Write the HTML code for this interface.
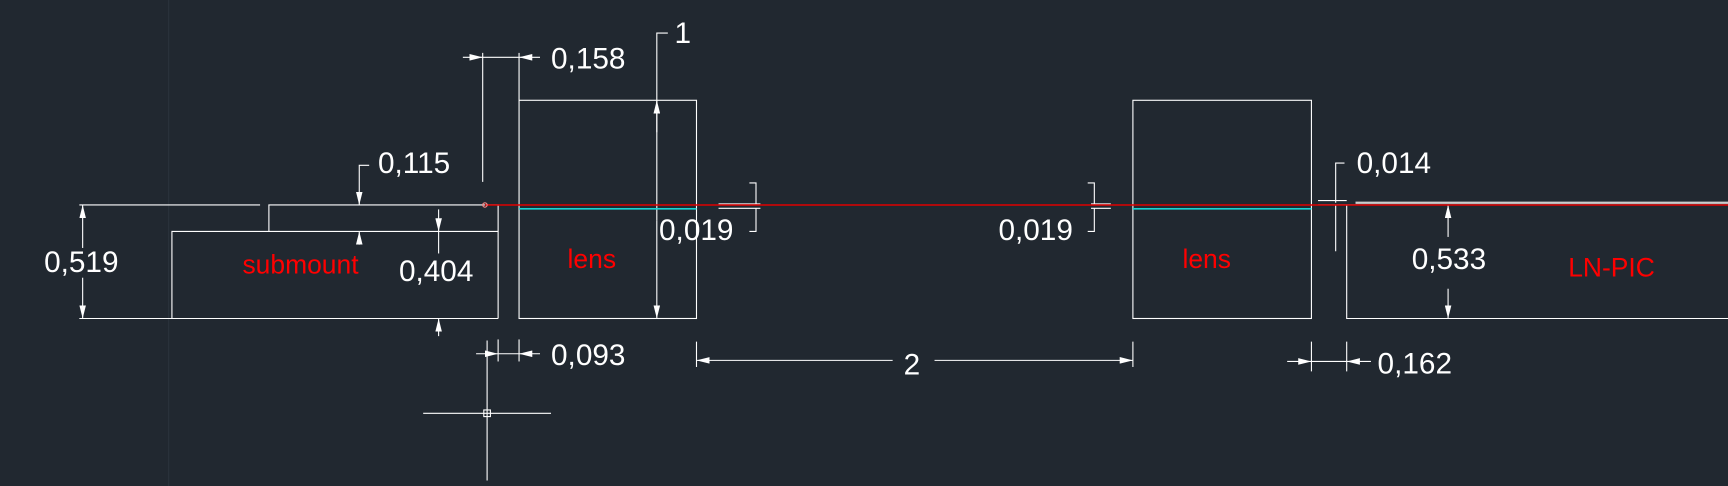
<!DOCTYPE html>
<html><head><meta charset="utf-8"><style>
html,body{margin:0;padding:0;background:#212830;overflow:hidden}
svg{display:block}
text{font-family:"Liberation Sans",sans-serif}
</style></head><body>
<svg width="1728" height="486" viewBox="0 0 1568 441" preserveAspectRatio="none">
<defs>
<marker id="ar" viewBox="0 0 12 6" refX="12" refY="3" markerWidth="12" markerHeight="6" markerUnits="userSpaceOnUse" orient="auto"><path d="M0,0 L12,3 L0,6 z" fill="#fff"/></marker>
</defs>
<rect width="1568" height="441" fill="#212830"/>
<line x1="153" y1="0" x2="153" y2="441" stroke="#2a323b" stroke-width="1"/>
<g stroke="#fff" stroke-width="1" fill="none">
<g>
<line x1="72" y1="186" x2="236" y2="186"/>
<polyline points="244,210 244,186 452,186 452,289"/>
<polyline points="452,210 156,210 156,289"/>
<line x1="72" y1="289" x2="452" y2="289"/>
</g>
<g>
<line x1="75" y1="225" x2="75" y2="186" marker-end="url(#ar)"/>
<line x1="75" y1="252" x2="75" y2="289" marker-end="url(#ar)"/>
</g>
<g>
<polyline points="335,150 326,150 326,186" marker-end="url(#ar)"/>
<line x1="326" y1="222" x2="326" y2="210" marker-end="url(#ar)"/>
</g>
<g>
<line x1="398" y1="190" x2="398" y2="210" marker-end="url(#ar)"/>
<line x1="398" y1="210" x2="398" y2="230"/>
<line x1="398" y1="305" x2="398" y2="289" marker-end="url(#ar)"/>
</g>
<g>
<line x1="438" y1="48" x2="438" y2="165"/>
<line x1="471" y1="48" x2="471" y2="91"/>
<line x1="420" y1="52" x2="438" y2="52" marker-end="url(#ar)"/>
<line x1="438" y1="52" x2="471" y2="52"/>
<line x1="490" y1="52" x2="471" y2="52" marker-end="url(#ar)"/>
</g>
<rect x="471" y="91" width="161" height="198"/>
<g>
<polyline points="606,30 596,30 596,200"/>
<line x1="596" y1="120" x2="596" y2="91" marker-end="url(#ar)"/>
<line x1="596" y1="200" x2="596" y2="289" marker-end="url(#ar)"/>
</g>
<g>
<line x1="652" y1="185" x2="690" y2="185"/><line x1="652" y1="189" x2="690" y2="189"/>
<polyline points="680,166 686,166 686,185"/><polyline points="686,189 686,210 680,210"/>
</g>
<rect x="1028" y="91" width="162" height="198"/>
<g>
<line x1="990" y1="185" x2="1008" y2="185"/><line x1="990" y1="189" x2="1008" y2="189"/>
<polyline points="987,166 993,166 993,185"/><polyline points="993,189 993,210 987,210"/>
</g>
<g>
<line x1="632" y1="310" x2="632" y2="333"/><line x1="1028" y1="310" x2="1028" y2="333"/>
<line x1="810" y1="327" x2="632" y2="327" marker-end="url(#ar)"/>
<line x1="848" y1="327" x2="1028" y2="327" marker-end="url(#ar)"/>
</g>
<g>
<line x1="452" y1="308" x2="452" y2="328"/><line x1="471" y1="308" x2="471" y2="328"/>
<line x1="432" y1="321" x2="452" y2="321" marker-end="url(#ar)"/>
<line x1="452" y1="321" x2="471" y2="321"/>
<line x1="490" y1="321" x2="471" y2="321" marker-end="url(#ar)"/>
</g>
<g>
<line x1="384" y1="375" x2="500" y2="375"/><line x1="442" y1="309" x2="442" y2="436"/>
<rect x="439" y="372" width="6" height="6"/>
</g>
<g>
<line x1="1196" y1="182" x2="1222" y2="182"/><line x1="1196" y1="186" x2="1222" y2="186"/>
<polyline points="1220,148 1212,148 1212,184"/><line x1="1212" y1="186" x2="1212" y2="228"/>
</g>
<g>
<polyline points="1568,186 1222,186 1222,289 1568,289"/>
<line x1="1230" y1="184" x2="1568" y2="184" stroke="#ccc" stroke-width="2"/>
</g>
<g>
<line x1="1314" y1="215" x2="1314" y2="186" marker-end="url(#ar)"/>
<line x1="1314" y1="262" x2="1314" y2="289" marker-end="url(#ar)"/>
</g>
<g>
<line x1="1190" y1="310" x2="1190" y2="337"/><line x1="1222" y1="310" x2="1222" y2="337"/>
<line x1="1168" y1="328" x2="1190" y2="328" marker-end="url(#ar)"/>
<line x1="1190" y1="328" x2="1222" y2="328"/>
<line x1="1244" y1="328" x2="1222" y2="328" marker-end="url(#ar)"/>
</g>
</g>
<line x1="471" y1="189.5" x2="632" y2="189.5" stroke="#19d3d3" stroke-width="1.5"/>
<line x1="1028" y1="189.5" x2="1190" y2="189.5" stroke="#19d3d3" stroke-width="1.5"/>
<line x1="440" y1="186" x2="1568" y2="186" stroke="#e00000" stroke-width="1.3"/>
<circle cx="440" cy="186" r="2" fill="none" stroke="#f88"/>
<g fill="#fff" font-size="27">
<text x="40" y="247">0,519</text>
<text x="343" y="157">0,115</text>
<text x="362" y="255">0,404</text>
<text x="500" y="62">0,158</text>
<text x="612" y="39">1</text>
<text x="598" y="218">0,019</text>
<text x="906" y="218">0,019</text>
<text x="820" y="340">2</text>
<text x="500" y="331">0,093</text>
<text x="1231" y="157">0,014</text>
<text x="1281" y="244">0,533</text>
<text x="1250" y="339">0,162</text>
</g>
<g fill="#ff0000" font-size="24">
<text x="220" y="248">submount</text>
<text x="515" y="243">lens</text>
<text x="1073" y="243">lens</text>
<text x="1423" y="251">LN-PIC</text>
</g>
</svg>
</body></html>
